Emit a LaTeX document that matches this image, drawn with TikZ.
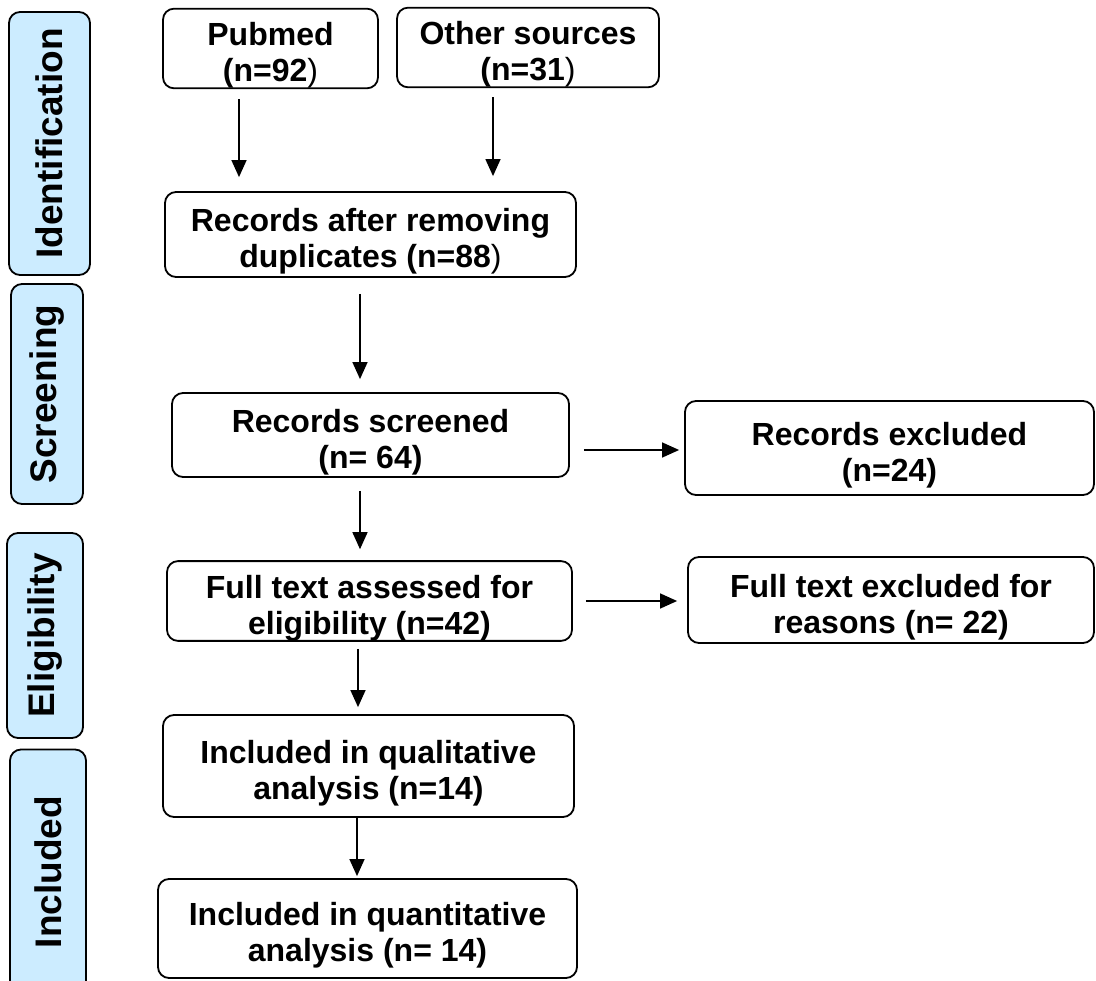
\documentclass[tikz,border=0pt]{standalone}
\usepackage{fontspec}
\setmainfont{Liberation Sans}
\usetikzlibrary{arrows.meta}

\definecolor{stageblue}{RGB}{204,236,255}
\newcommand\boxstrut{\rule{0pt}{37pt}}

\begin{document}
\begin{tikzpicture}[
        x=1pt,y=-1pt,
        box/.style={draw,line width=1.8pt,rounded corners=11pt,align=center,
            inner sep=0pt,font=\bfseries\fontsize{32}{36}\selectfont},
        stage/.style={draw,line width=1.8pt,rounded corners=11pt,fill=stageblue,
            rotate=90,inner sep=0pt,font=\bfseries\fontsize{37}{40}\selectfont},
        arr/.style={line width=1.4pt,-{Triangle[width=15pt,length=17pt]}}
    ]
    \useasboundingbox (0,0) rectangle (1096,981);
    \clip (0,0) rectangle (1096,981);

    % stages on the left
    \node[stage,minimum width=263,minimum height=81] (ident) at (49.5,143.5) {Identification};
    \node[stage,minimum width=220,minimum height=72] (screen) at (47,394) {Screening};
    \node[stage,minimum width=205,minimum height=76] (elig) at (45,635.5) {Eligibility};
    \node[stage,minimum width=245,minimum height=76] (incl) at (48,872) {Included};

    % flow
    \node[box,minimum width=215,minimum height=77] (pubmed) at (270.5,48.5)
        {\boxstrut Pubmed\\(n=92{\mdseries)}};
    \node[box,minimum width=262,minimum height=77] (other) at (528,47.5)
        {\boxstrut Other sources\\(n=31{\mdseries)}};
    \node[box,minimum width=411,minimum height=85] (dup) at (370.5,234.5)
        {\boxstrut Records after removing\\duplicates (n=88{\mdseries)}};
    \node[box,minimum width=397,minimum height=84] (screened) at (370.5,435)
        {\boxstrut Records screened\\(n= 64)};
    \node[box,minimum width=409,minimum height=94] (recexcl) at (889.5,448)
        {\boxstrut Records excluded\\(n=24)};
    \node[box,minimum width=405,minimum height=78] (fulltext) at (369.5,601)
        {\boxstrut Full text assessed for\\eligibility (n=42)};
    \node[box,minimum width=406,minimum height=86] (ftexcl) at (891,600)
        {\boxstrut Full text excluded for\\reasons (n= 22)};
    \node[box,minimum width=411,minimum height=102] (qual) at (368.5,766)
        {\boxstrut Included in qualitative\\analysis (n=14)};
    \node[box,minimum width=419,minimum height=99] (quant) at (367.5,928.5)
        {\boxstrut Included in quantitative\\analysis (n= 14)};

    \draw[arr,shorten <=10pt,shorten >=14pt] ([xshift=-31.5pt]pubmed.south)
        -- ([xshift=-31.5pt]pubmed.south |- dup.north);
    \draw[arr,shorten <=9pt,shorten >=15pt] ([xshift=-35pt]other.south)
        -- ([xshift=-35pt]other.south |- dup.north);
    \draw[arr,shorten <=16pt,shorten >=13pt] ([xshift=-10.5pt]dup.south)
        -- ([xshift=-10.5pt]dup.south |- screened.north);
    \draw[arr,shorten <=13pt,shorten >=11pt] ([xshift=-10.5pt]screened.south)
        -- ([xshift=-10.5pt]screened.south |- fulltext.north);
    \draw[arr,shorten <=7pt,shorten >=7pt] ([xshift=-11.5pt]fulltext.south)
        -- ([xshift=-11.5pt]fulltext.south |- qual.north);
    \draw[arr,shorten >=2pt] ([xshift=-11.5pt]qual.south)
        -- ([xshift=-11.5pt]qual.south |- quant.north);
    \draw[arr,shorten <=14pt,shorten >=5pt] ([yshift=-15pt]screened.east)
        -- ([yshift=-15pt]screened.east -| recexcl.west);
    \draw[arr,shorten <=13pt,shorten >=10pt] (fulltext.east)
        -- (fulltext.east -| ftexcl.west);
\end{tikzpicture}
\end{document}
